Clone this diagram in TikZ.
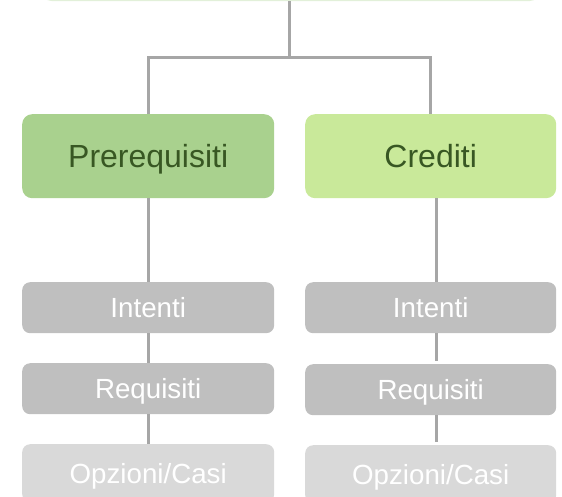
\documentclass[tikz,border=0pt]{standalone}
\usepackage{fontspec}
\setmainfont{Liberation Sans}
\definecolor{linegray}{HTML}{A6A6A6}
\definecolor{greenA}{HTML}{A9D18E}
\definecolor{greenB}{HTML}{C9E99A}
\definecolor{darkgreen}{HTML}{385723}
\definecolor{boxgray}{HTML}{BFBFBF}
\definecolor{lightgray}{HTML}{D9D9D9}
\definecolor{topgreen}{HTML}{E2F0D9}
\begin{document}
\begin{tikzpicture}[x=1pt,y=-1pt,
  conn/.style={draw=linegray,line width=3pt},
  mainbox/.style={rounded corners=10pt,inner sep=0pt,minimum width=252pt,minimum height=84pt,anchor=north west,text=darkgreen,font=\fontsize{32}{38}\selectfont,text height=22.9pt,text depth=0pt},
  subbox/.style={rounded corners=8pt,inner sep=0pt,minimum width=252pt,minimum height=51pt,anchor=north west,text=white,font=\fontsize{27.7}{33}\selectfont,text height=19.8pt,text depth=0pt},
  grayA/.style={subbox,fill=boxgray},
  grayB/.style={subbox,fill=lightgray,minimum height=58pt}]
\useasboundingbox (0,0) rectangle (562,496);
\clip (0,0) rectangle (562,496);
\node[draw=topgreen,fill=white,line width=1.5pt,rounded corners=10pt,minimum width=498pt,minimum height=60pt,anchor=south west,inner sep=0pt] (top) at (41,1) {};
\node[mainbox,fill=greenA] (pre) at (22,114) {Prerequisiti};
\node[mainbox,fill=greenB,minimum width=251pt] (cre) at (305,114) {Crediti};
\node[grayA] (intL) at (22,282) {Intenti};
\node[grayA] (reqL) at (22,363) {Requisiti};
\node[grayB] (opzL) at (22,444) {Opzioni/Casi};
\node[grayA,minimum width=251pt] (intR) at (305,282) {Intenti};
\node[grayA,minimum width=251pt] (reqR) at (305,364) {Requisiti};
\node[grayB,minimum width=251pt] (opzR) at (305,445) {Opzioni/Casi};
\coordinate (split) at (289,57);
\draw[conn] (top.south -| split) -- (split);
\draw[conn] (pre.north) |- (split) -| (cre.north);
\draw[conn] (pre.south) -- (intL.north);
\draw[conn] (intL.south) -- (reqL.north);
\draw[conn] (reqL.south) -- (opzL.north);
\draw[conn] ([xshift=6pt]cre.south) -- ([xshift=6pt]intR.north);
\draw[conn,shorten >=3pt] ([xshift=6pt]intR.south) -- ([xshift=6pt]reqR.north);
\draw[conn,shorten >=3pt] ([xshift=6pt]reqR.south) -- ([xshift=6pt]opzR.north);
\end{tikzpicture}
\end{document}
